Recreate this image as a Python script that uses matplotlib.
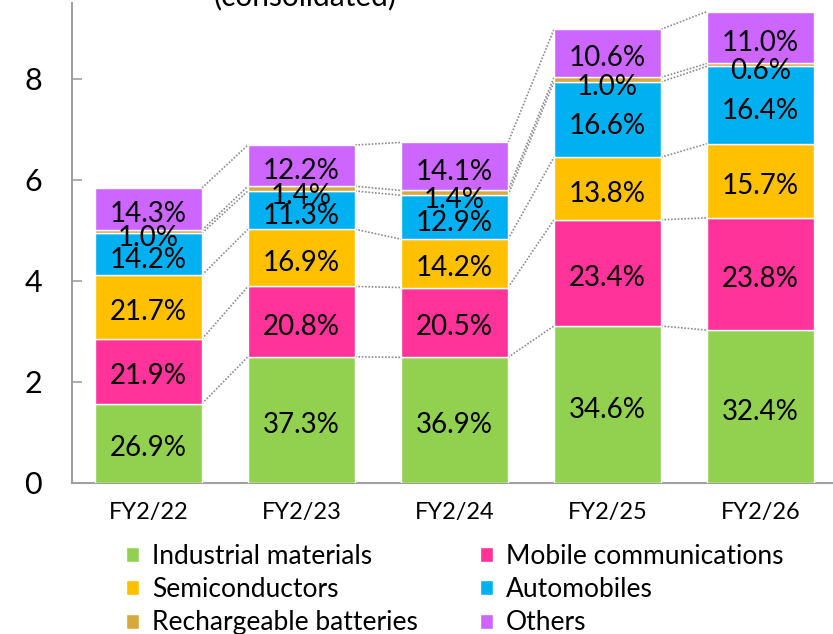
import matplotlib
matplotlib.use("Agg")
import matplotlib.pyplot as plt
import numpy as np

plt.rcParams['font.family'] = ['Lato', 'DejaVu Sans']

# ---- data ----
years = ["FY2/22", "FY2/23", "FY2/24", "FY2/25", "FY2/26"]
totals = [5.84, 6.69, 6.74, 8.98, 9.33]
segments = ["Industrial materials", "Mobile communications", "Semiconductors",
            "Automobiles", "Rechargeable batteries", "Others"]
pct_industrial = [26.9, 37.3, 36.9, 34.6, 32.4]
pct_mobile = [21.9, 20.8, 20.5, 23.4, 23.8]
pct_semi = [21.7, 16.9, 14.2, 13.8, 15.7]
pct_auto = [14.2, 11.3, 12.9, 16.6, 16.4]
pct_battery = [1.0, 1.4, 1.4, 1.0, 0.6]
pct_others = [14.3, 12.2, 14.1, 10.6, 11.0]
colors = ["#92D050", "#FF3399", "#FFC000", "#00B0F0", "#D9A83C", "#CC66FF"]

pcts = np.array([pct_industrial, pct_mobile, pct_semi, pct_auto, pct_battery, pct_others])
tot = np.array(totals)
vals = pcts / pcts.sum(axis=0) * tot

fig = plt.figure(figsize=(8.33, 6.34), dpi=100)
W, H = 833, 634
ax = fig.add_axes([72 / W, (H - 483) / H, (W - 72) / W, (483 - 3) / H])

x = np.arange(len(years))
bw = 0.7
bottoms = np.zeros(len(years))
tops_list = []
bars = []
for k in range(len(segments)):
    b = ax.bar(x, vals[k], bw, bottom=bottoms, color=colors[k], edgecolor='white',
               linewidth=1.0, label=segments[k], zorder=3)
    bars.append(b)
    bottoms = bottoms + vals[k]
    tops_list.append(bottoms.copy())

# connector lines
for i in range(len(years) - 1):
    for k in range(len(segments)):
        ax.plot([x[i] + bw / 2, x[i + 1] - bw / 2], [tops_list[k][i], tops_list[k][i + 1]],
                color='#8C8C8C', linestyle=(0, (1, 1)), linewidth=1.2, zorder=2)

# labels
for i in range(len(years)):
    base = 0.0
    for k in range(len(segments)):
        v = vals[k][i]
        if k == 4:
            y = base - 0.1
        elif k == 3:
            y = base + v / 2 - 0.12
        else:
            y = base + v / 2 - 0.1
        ax.text(x[i], y, f"{pcts[k][i]:.1f}%", ha='center', va='center',
                fontsize=20, color='black', zorder=5)
        base += v

ax.set_xlim(-0.5, (833 - 148.5) / 153)
ax.set_ylim(0, 9.5)
ax.set_yticks([0, 2, 4, 6, 8])
ax.set_xticks(x)
ax.set_xticklabels(years, fontsize=17)
ax.tick_params(axis='x', length=0, pad=14)
ax.tick_params(axis='y', direction='in', length=7, width=1.2, color='#A0A0A0',
               labelsize=22, pad=28)
for lab in ax.get_yticklabels():
    lab.set_horizontalalignment('center')
for s in ['top', 'right']:
    ax.spines[s].set_visible(False)
for s in ['left', 'bottom']:
    ax.spines[s].set_color('#A0A0A0')
    ax.spines[s].set_linewidth(1.5)

fig.text(305 / W, 1 - 5 / H, "(consolidated)", ha='center', va='baseline', fontsize=21.5)

order = [0, 2, 4, 1, 3, 5]
handles = [bars[j] for j in order]
labels = [segments[j] for j in order]
leg = fig.legend(handles, labels, ncol=2, loc='lower left',
                 bbox_to_anchor=(115 / W, -12 / H), frameon=False, fontsize=19,
                 handlelength=0.5, handleheight=0.5, handletextpad=0.5,
                 columnspacing=2.35, labelspacing=0.32, borderaxespad=0)

fig.savefig("out.png", dpi=100)
